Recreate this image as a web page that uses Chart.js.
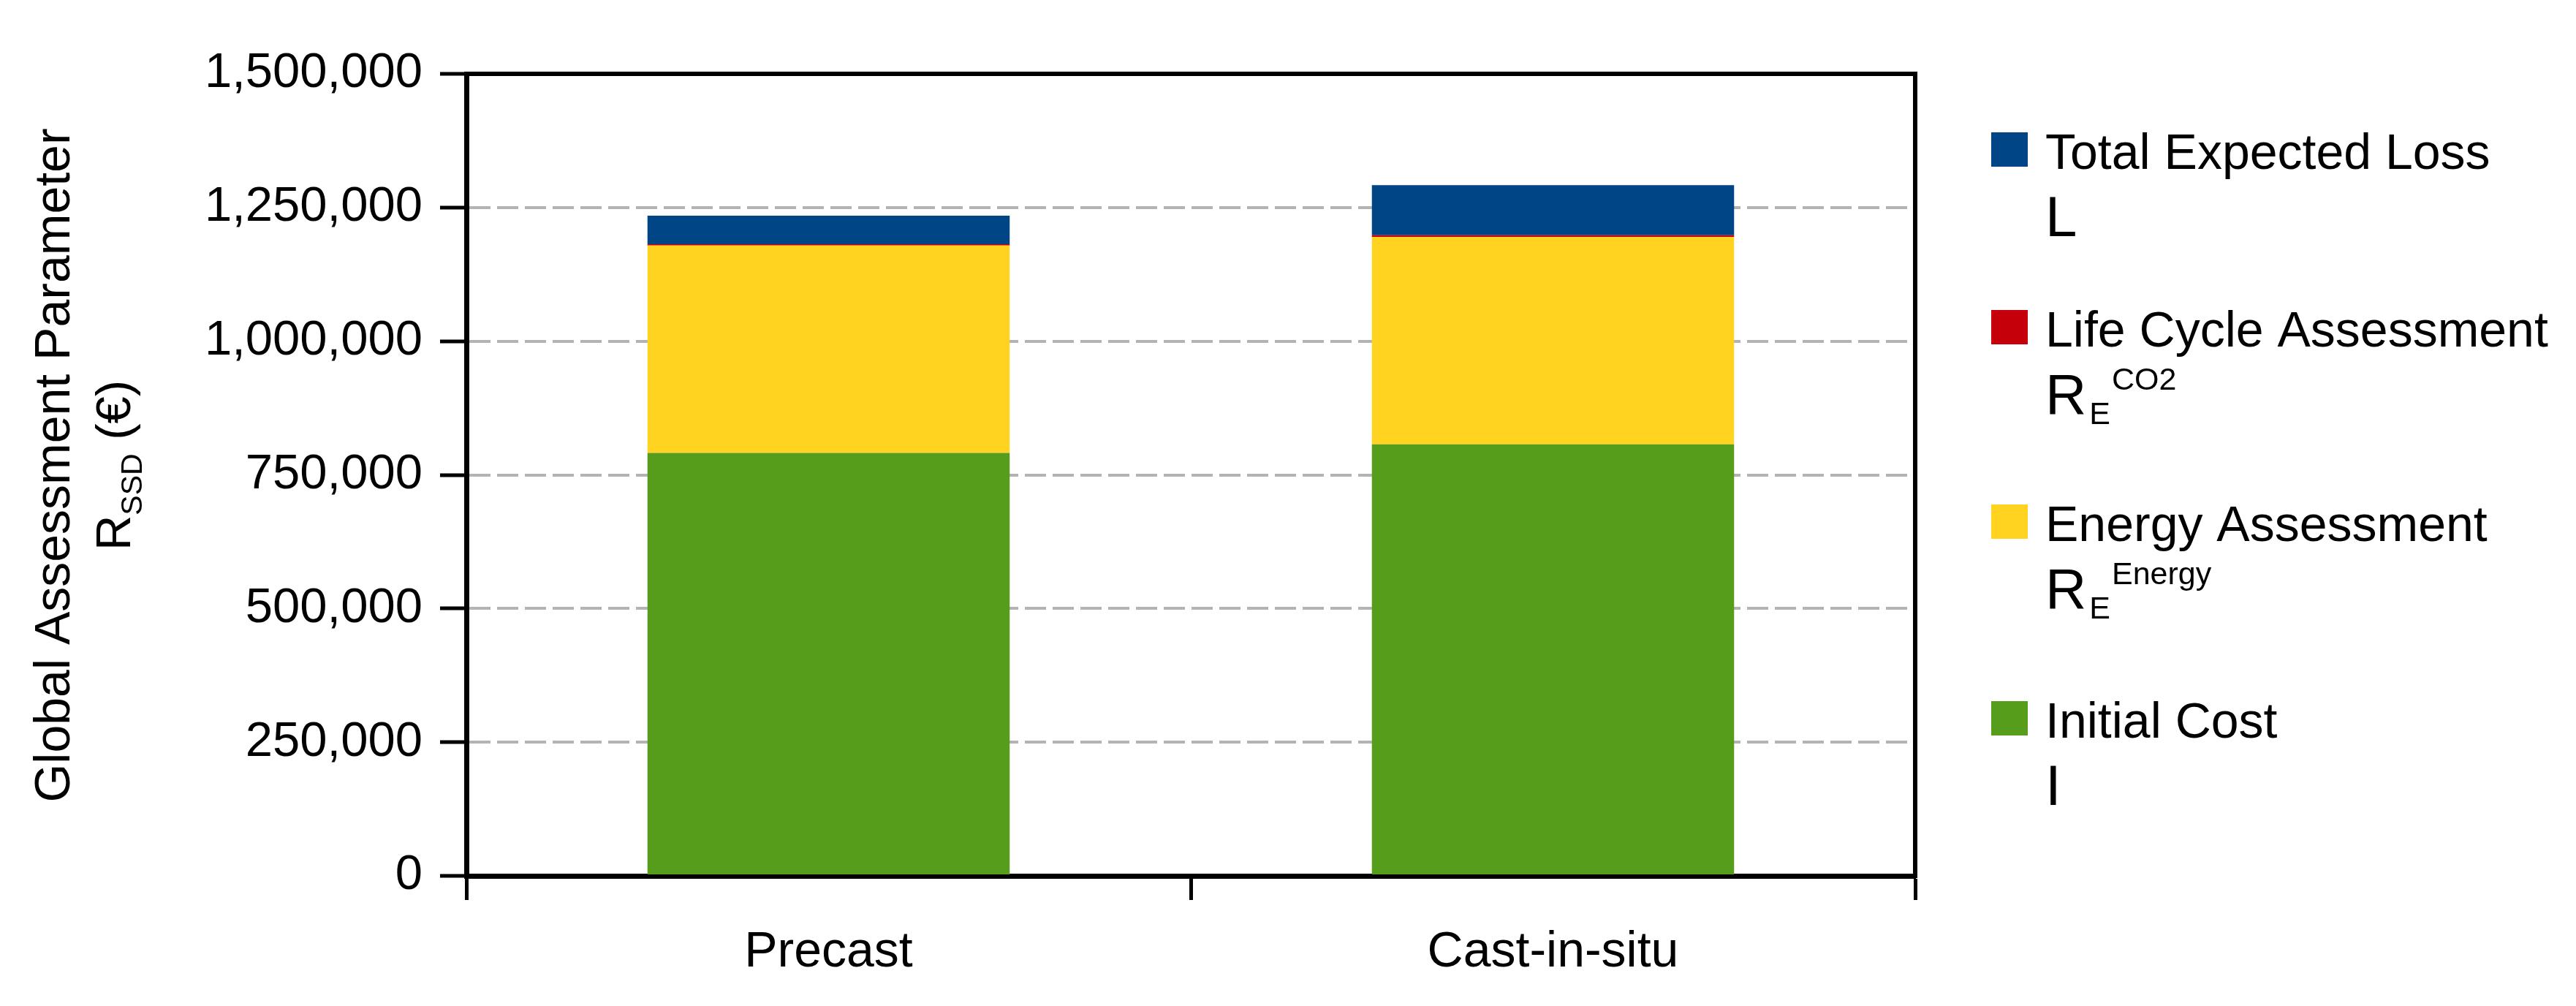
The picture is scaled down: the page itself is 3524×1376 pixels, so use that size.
<!DOCTYPE html>
<html><head><meta charset="utf-8">
<script src="https://cdn.jsdelivr.net/npm/chart.js@4"></script>
<style>html,body{margin:0;padding:0;background:#fff;} canvas{display:block;}</style>
</head><body>
<canvas id="c" width="3524" height="1376"></canvas>
<script>
// ---- data ----
const categories = ['Precast', 'Cast-in-situ'];
const initialCost = [791000, 807000];
const energyAssessment = [388000, 388000];
const lifeCycleAssessment = [2300, 3100];
const totalExpectedLoss = [53300, 93800];
const seriesNames = ['Initial Cost', 'Energy Assessment', 'Life Cycle Assessment', 'Total Expected Loss'];
const seriesSymbols = ['I', 'R', 'R', 'L'];
const seriesSubscripts = ['', 'E', 'E', ''];
const seriesSuperscripts = ['', 'Energy', 'CO2', ''];
const yTickValues = [0, 250000, 500000, 750000, 1000000, 1250000, 1500000];
const yAxisTitle = 'Global Assessment Parameter';
const yAxisSymbol = 'R';
const yAxisSubscript = 'SSD';
const yAxisUnit = ' (€)';
const seriesColors = ['#579d1c', '#ffd320', '#c5000b', '#004586'];

const FONT = "'Liberation Sans', Arial, sans-serif";
const seriesValues = [initialCost, energyAssessment, lifeCycleAssessment, totalExpectedLoss];

const bgPlugin = {
  id: 'bg',
  beforeDraw(chart) {
    const ctx = chart.ctx;
    ctx.save(); ctx.fillStyle = '#fff'; ctx.fillRect(0, 0, chart.width, chart.height); ctx.restore();
  }
};

const framePlugin = {
  id: 'frame',
  afterDraw(chart) {
    const {ctx, chartArea: a} = chart;
    ctx.save();
    ctx.strokeStyle = '#000'; ctx.lineWidth = 6; ctx.lineCap = 'butt';
    ctx.beginPath();
    ctx.moveTo(a.left - 3, a.top); ctx.lineTo(a.right + 3, a.top);
    ctx.moveTo(a.right, a.top); ctx.lineTo(a.right, a.bottom + 3);
    ctx.stroke();
    ctx.restore();
  }
};

const yTitlePlugin = {
  id: 'ytitle',
  afterDraw(chart) {
    const ctx = chart.ctx;
    const a = chart.chartArea;
    const cy = (a.top + a.bottom) / 2 - 13;
    ctx.save();
    ctx.fillStyle = '#000';
    ctx.translate(76, cy);
    ctx.rotate(-Math.PI / 2);
    ctx.font = '68px ' + FONT;
    ctx.textAlign = 'center'; ctx.textBaseline = 'middle';
    ctx.fillText(yAxisTitle, 0, 0);
    ctx.restore();
    ctx.save();
    ctx.fillStyle = '#000';
    ctx.translate(178, cy);
    ctx.rotate(-Math.PI / 2);
    ctx.textAlign = 'left'; ctx.textBaseline = 'alphabetic';
    ctx.font = '67px ' + FONT;
    const wR = ctx.measureText(yAxisSymbol).width;
    const wU = ctx.measureText(yAxisUnit).width;
    ctx.font = '41px ' + FONT;
    const wS = ctx.measureText(yAxisSubscript).width;
    let x = -(wR + wS + wU) / 2;
    ctx.font = '67px ' + FONT;
    ctx.fillText(yAxisSymbol, x, 0);
    ctx.font = '41px ' + FONT;
    ctx.fillText(yAxisSubscript, x + wR, 16);
    ctx.font = '67px ' + FONT;
    ctx.fillText(yAxisUnit, x + wR + wS, 0);
    ctx.restore();
  }
};

const legendPlugin = {
  id: 'customLegend',
  afterDraw(chart) {
    const ctx = chart.ctx;
    const order = [3, 2, 1, 0];
    const baselines = [231, 474, 740, 1009];
    const boxX = 2724, textX = 2798;
    ctx.save();
    order.forEach((di, row) => {
      const ds = chart.data.datasets[di];
      const b = baselines[row];
      ctx.fillStyle = ds.backgroundColor;
      ctx.fillRect(boxX, b - 50, 50, 47);
      ctx.fillStyle = '#000';
      ctx.textAlign = 'left'; ctx.textBaseline = 'alphabetic';
      ctx.font = '68px ' + FONT;
      ctx.fillText(ds.label, textX, b);
      const mb = b + 92;
      ctx.font = '78px ' + FONT;
      ctx.fillText(seriesSymbols[di], textX, mb);
      const wM = ctx.measureText(seriesSymbols[di]).width;
      ctx.font = '43px ' + FONT;
      let sx = textX + wM + 4;
      if (seriesSubscripts[di]) {
        ctx.fillText(seriesSubscripts[di], sx, mb + 14);
        sx += ctx.measureText(seriesSubscripts[di]).width + 2;
      }
      if (seriesSuperscripts[di]) {
        ctx.fillText(seriesSuperscripts[di], sx, mb - 33);
      }
    });
    ctx.restore();
  }
};

new Chart(document.getElementById('c'), {
  type: 'bar',
  data: {
    labels: categories,
    datasets: seriesNames.map((name, i) => ({
      label: name,
      data: seriesValues[i],
      backgroundColor: seriesColors[i],
      borderWidth: 0
    }))
  },
  options: {
    responsive: false,
    animation: false,
    devicePixelRatio: 1,
    layout: { padding: { left: 0, top: 101, right: 904, bottom: 0 } },
    plugins: { legend: { display: false }, tooltip: { enabled: false }, title: { display: false } },
    datasets: { bar: { categoryPercentage: 1, barPercentage: 0.5 } },
    scales: {
      x: {
        stacked: true,
        offset: true,
        grid: { offset: true, drawOnChartArea: false, drawTicks: true, tickLength: 33, tickWidth: 5, tickColor: '#000' },
        border: { display: true, color: '#000', width: 7 },
        ticks: { font: { family: FONT, size: 68 }, color: '#000', padding: 31, maxRotation: 0 },
        afterFit(s) { s.height = 178; }
      },
      y: {
        stacked: true,
        min: yTickValues[0],
        max: yTickValues[yTickValues.length - 1],
        afterBuildTicks(s) { s.ticks = yTickValues.map(v => ({ value: v })); },
        grid: { color: '#b3b3b3', lineWidth: 4, drawTicks: true, tickLength: 36, tickWidth: 5, tickColor: '#000' },
        border: { display: true, color: '#000', width: 7, dash: [29, 9] },
        ticks: { font: { family: FONT, size: 67 }, color: '#000', padding: 24, callback: v => Number(v).toLocaleString('en-US') },
        afterFit(s) { s.width = 638; }
      }
    }
  },
  plugins: [bgPlugin, framePlugin, yTitlePlugin, legendPlugin]
});
</script>
</body></html>
